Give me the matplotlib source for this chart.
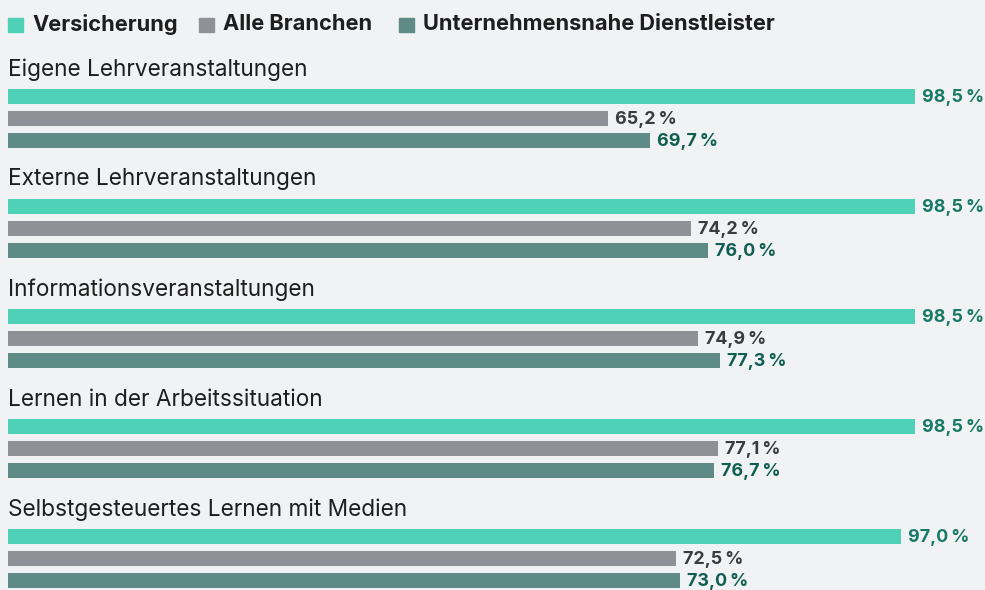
import matplotlib.pyplot as plt
from matplotlib.patches import Rectangle

plt.rcParams['font.family'] = ['Inter', 'DejaVu Sans']

categories = ['Eigene Lehrveranstaltungen', 'Externe Lehrveranstaltungen',
              'Informationsveranstaltungen', 'Lernen in der Arbeitssituation',
              'Selbstgesteuertes Lernen mit Medien']
series = ['Versicherung', 'Alle Branchen', 'Unternehmensnahe Dienstleister']
versicherung = [98.5, 98.5, 98.5, 98.5, 97.0]
alle_branchen = [65.2, 74.2, 74.9, 77.1, 72.5]
dienstleister = [69.7, 76.0, 77.3, 76.7, 73.0]

bar_colors = ['#4fd1b7', '#8e9296', '#5e8b85']
text_colors = ['#177a66', '#3b3b3d', '#0f5e52']
bg = '#f1f2f4'

fig = plt.figure(figsize=(9.85, 5.9), dpi=100, facecolor=bg)
ax = fig.add_axes([0, 0, 1, 1])
ax.set_facecolor(bg)
px = 98.5 / 907
ax.set_xlim(-8 * px, 977 * px)
ax.set_ylim(590, 0)
ax.axis('off')

values = [versicherung, alle_branchen, dienstleister]
for i, cat in enumerate(categories):
    y0 = 96.5 + 110 * i
    ax.text(0, y0 - 27, cat, fontsize=16.3, color='#1e1e1e',
            va='center', ha='left')
    for j, vals in enumerate(values):
        y = y0 + 22 * j
        ax.barh(y, vals[i], height=15, left=0, color=bar_colors[j])
        ax.text(vals[i] + 7 * px, y + 1, f'{vals[i]:.1f}'.replace('.', ',') + '\u2009%',
                fontsize=12.9, fontweight='bold', color=text_colors[j],
                va='center', ha='left')

# legend
leg_x = [8, 199, 399]
for j, name in enumerate(series):
    fig.patches.append(Rectangle((leg_x[j] / 985, 1 - 32 / 590), 15 / 985, 14 / 590,
                                 transform=fig.transFigure, color=bar_colors[j]))
    fig.text((leg_x[j] + 24) / 985, 1 - 24.5 / 590, name, fontsize=15.7,
             fontweight='bold', color='#1e1e1e', va='center', ha='left')

fig.savefig('out.png', dpi=100, facecolor=bg)
